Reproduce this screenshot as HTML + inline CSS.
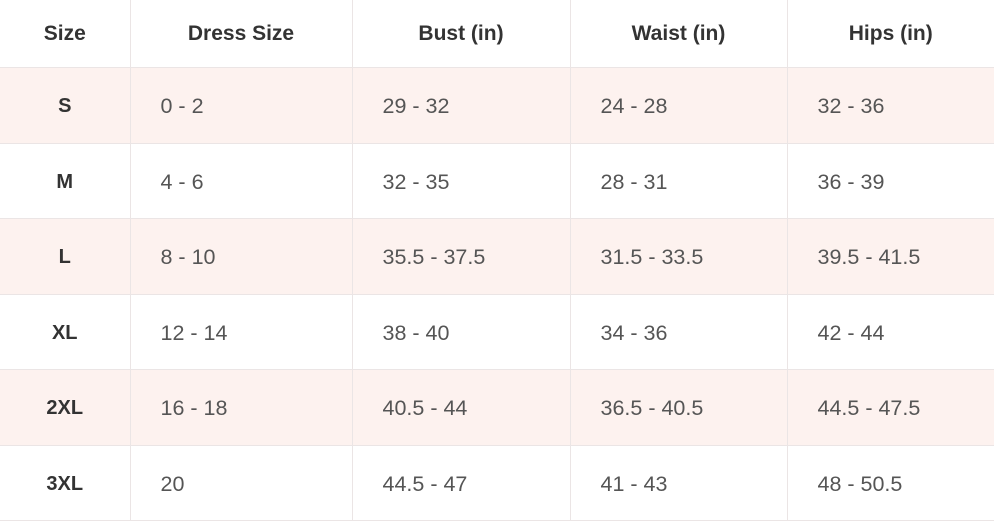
<!DOCTYPE html>
<html><head><meta charset="utf-8"><style>
body{margin:0;background:#fff;width:994px;height:521px;overflow:hidden;font-family:"Liberation Sans",sans-serif}
table{border-collapse:collapse;position:absolute;left:0;top:0;width:994px;table-layout:fixed}
td,th{border:1px solid #ebe5e5;padding:0}
tr:first-child th{border-top:none}
td:first-child,th:first-child{border-left:none}
td:last-child,th:last-child{border-right:none}
th{height:67px;font-size:21px;font-weight:bold;color:#333;text-align:center}
td{height:75.5px;font-size:21.5px;color:#555;padding-left:30px;padding-top:3px;box-sizing:border-box}
td.s{font-weight:bold;color:#333;text-align:center;padding-left:0;font-size:20px}
tr.p td{background:#fdf2ef}
</style></head><body>
<table>
<colgroup><col style="width:130px"><col style="width:222px"><col style="width:218px"><col style="width:217px"><col style="width:207px"></colgroup>
<tr><th>Size</th><th>Dress Size</th><th>Bust (in)</th><th>Waist (in)</th><th>Hips (in)</th></tr>
<tr class="p"><td class="s">S</td><td>0 - 2</td><td>29 - 32</td><td>24 - 28</td><td>32 - 36</td></tr>
<tr><td class="s">M</td><td>4 - 6</td><td>32 - 35</td><td>28 - 31</td><td>36 - 39</td></tr>
<tr class="p"><td class="s">L</td><td>8 - 10</td><td>35.5 - 37.5</td><td>31.5 - 33.5</td><td>39.5 - 41.5</td></tr>
<tr><td class="s">XL</td><td>12 - 14</td><td>38 - 40</td><td>34 - 36</td><td>42 - 44</td></tr>
<tr class="p"><td class="s">2XL</td><td>16 - 18</td><td>40.5 - 44</td><td>36.5 - 40.5</td><td>44.5 - 47.5</td></tr>
<tr><td class="s">3XL</td><td>20</td><td>44.5 - 47</td><td>41 - 43</td><td>48 - 50.5</td></tr>
</table>
</body></html>
